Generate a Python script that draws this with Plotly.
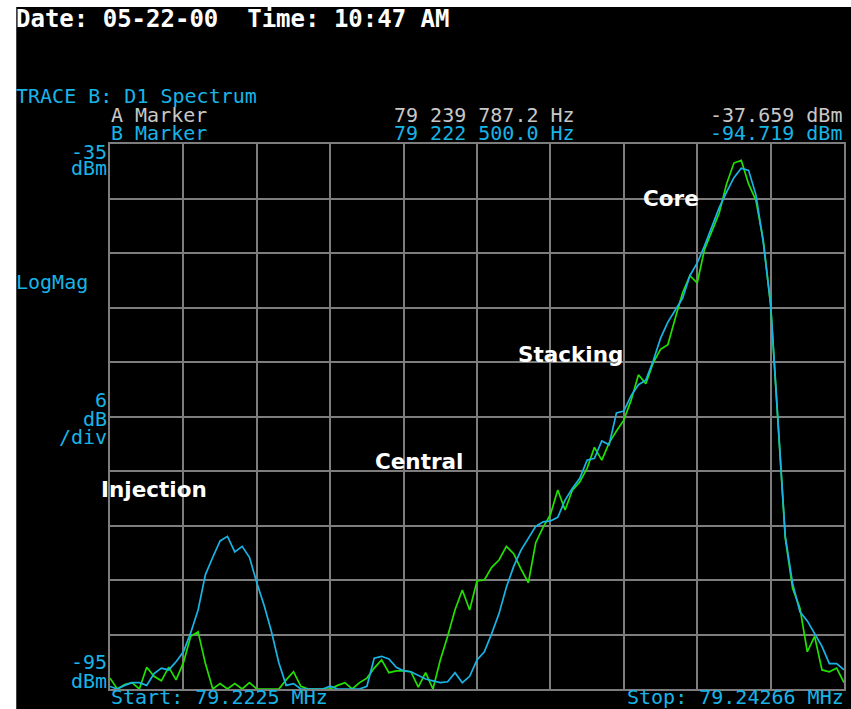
import numpy as np
import plotly.graph_objects as go

# ---- instrument settings -------------------------------------------------
start_mhz = 79.2225
stop_mhz = 79.24266
ref_level = -35.0
bottom_level = -95.0
db_per_div = 6

# ---- measured traces (dBm), evenly spaced from start to stop ---------------
trace_b_dbm = [
    -94.72, -95.0, -94.6, -94.3, -94.3, -94.6, -93.3, -92.7, -92.9, -92.0,
    -90.9, -88.8, -86.3, -82.4, -80.5, -78.7, -78.2, -79.9, -79.3, -80.5,
    -83.3, -85.8, -88.7, -92.1, -94.6, -94.4, -95.0, -95.0, -95.0, -95.0,
    -94.7, -95.0, -95.0, -95.0, -95.0, -94.7, -91.6, -91.4, -91.7, -92.6,
    -93.0, -93.1, -93.5, -93.9, -94.1, -94.3, -94.2, -93.2, -94.3, -93.6,
    -91.8, -90.9, -88.9, -86.7, -83.8, -81.5, -79.7, -78.4, -77.1, -76.6,
    -76.5, -76.1, -74.2, -72.9, -71.8, -69.8, -69.6, -67.7, -68.1, -64.6,
    -64.4, -62.7, -61.5, -61.0, -58.9, -56.4, -54.6, -53.3, -52.0, -49.5,
    -48.1, -46.2, -44.2, -42.0, -40.3, -38.7, -37.66, -37.9, -40.6, -45.8,
    -52.6, -65.2, -78.2, -83.4, -86.5, -87.5, -88.9, -90.3, -92.2, -92.2,
    -92.9,
]

trace_a_dbm = [
    -93.8, -95.0, -94.5, -94.3, -95.0, -92.6, -93.6, -94.1, -92.6, -94.0,
    -92.1, -89.2, -88.7, -92.2, -95.0, -94.4, -95.0, -94.4, -95.0, -94.3,
    -95.0, -95.0, -95.0, -95.0, -94.0, -93.1, -94.7, -95.0, -95.0, -95.0,
    -95.0, -94.6, -94.3, -95.0, -94.3, -93.8, -92.7, -91.8, -93.2, -93.0,
    -93.0, -93.1, -94.8, -93.2, -95.0, -91.8, -89.2, -86.3, -84.1, -86.3,
    -83.1, -83.0, -81.6, -80.8, -79.3, -80.1, -81.8, -83.3, -78.9, -77.2,
    -75.8, -73.1, -75.3, -73.1, -72.2, -70.7, -68.4, -69.8, -67.9, -66.6,
    -65.4, -63.2, -60.4, -61.4, -59.1, -57.6, -57.1, -54.2, -51.4, -49.5,
    -50.3, -46.6, -44.5, -42.6, -39.4, -37.1, -36.8, -39.4, -41.2, -45.6,
    -52.7, -65.2, -78.4, -83.9, -86.1, -90.9, -89.2, -92.9, -93.1, -92.7,
    -94.3,
]

freq_mhz = np.linspace(start_mhz, stop_mhz, len(trace_b_dbm))

# ---- marker readouts ------------------------------------------------------
marker_names = ["A Marker", "B Marker"]
marker_hz = [79239787.2, 79222500.0]
marker_dbm = [-37.659, -94.719]

# ---- region labels --------------------------------------------------------
region_names = ["Core", "Stacking", "Central", "Injection"]

# ---- page geometry --------------------------------------------------------
W, H = 851, 709
ML, MR, MT, MB = 110, 5, 144, 20

CYAN = "#19b4e6"
GREEN = "#22e000"
GRID = "#7d7d7d"
GREY_TXT = "#c8c8c8"
MONO = "DejaVu Sans Mono"
SMALL = 20


def fx(x):
    return (x - ML) / (W - ML - MR)


def fy(y):
    return (H - MB - y) / (H - MT - MB)


fig = go.Figure()

fig.add_trace(go.Scatter(
    x=freq_mhz, y=trace_a_dbm, mode="lines",
    line=dict(color=GREEN, width=1.7), hoverinfo="skip", showlegend=False,
))
fig.add_trace(go.Scatter(
    x=freq_mhz, y=trace_b_dbm, mode="lines",
    line=dict(color=CYAN, width=1.7), hoverinfo="skip", showlegend=False,
))

annotations = []


def label(text, x, y, color, size, anchor="left", family=MONO, bold=False):
    if bold:
        text = "<b>" + text + "</b>"
    annotations.append(dict(
        text=text, x=fx(x), y=fy(y), xref="paper", yref="paper",
        xanchor=anchor, yanchor="middle", showarrow=False, borderpad=0,
        font=dict(family=family, size=size, color=color),
    ))


# header lines
label("Date: 05-22-00  Time: 10:47 AM", 15, 19, "white", 24, bold=True)
label("TRACE B: D1 Spectrum", 15, 96, CYAN, SMALL)

row_y = [115, 133]
row_colors = [GREY_TXT, CYAN]
for name, hz, dbm, yy, col in zip(marker_names, marker_hz, marker_dbm, row_y, row_colors):
    label(name, 110, yy, col, SMALL)
    label(f"{hz:,.1f}".replace(",", " ") + " Hz", 394, yy, col, SMALL)
    label(f"{dbm:.3f} dBm", 845, yy, col, SMALL, anchor="right")

# left scale annotations
label(f"{ref_level:.0f}", 108, 152, CYAN, SMALL, anchor="right")
label("dBm", 108, 168, CYAN, SMALL, anchor="right")
label("LogMag", 15, 282, CYAN, SMALL)
label(f"{db_per_div}", 108, 400, CYAN, SMALL, anchor="right")
label("dB", 108, 419, CYAN, SMALL, anchor="right")
label("/div", 108, 437, CYAN, SMALL, anchor="right")
label(f"{bottom_level:.0f}", 108, 662, CYAN, SMALL, anchor="right")
label("dBm", 108, 681, CYAN, SMALL, anchor="right")

# frequency span
label(f"Start: {start_mhz:.4f} MHz", 110, 697, CYAN, SMALL)
label(f"Stop: {stop_mhz:.5f} MHz", 847, 697, CYAN, SMALL, anchor="right")

# region names
region_pos = [(673, 199), (572, 354), (420, 461), (154, 490)]
for name, (xx, yy) in zip(region_names, region_pos):
    label(name, xx, yy, "white", 21.5, anchor="center", family="DejaVu Sans", bold=True)

# white frame strips along the left and top of the screen capture
shapes = [
    dict(type="rect", xref="paper", yref="paper", x0=fx(-5), x1=fx(16),
         y0=fy(H + 5), y1=fy(-5), fillcolor="white", line=dict(width=0)),
    dict(type="rect", xref="paper", yref="paper", x0=fx(-5), x1=fx(W + 5),
         y0=fy(7), y1=fy(-5), fillcolor="white", line=dict(width=0)),
]

span = stop_mhz - start_mhz
fig.update_layout(
    width=W, height=H,
    margin=dict(l=ML, r=MR, t=MT, b=MB, pad=0),
    paper_bgcolor="black", plot_bgcolor="black",
    annotations=annotations, shapes=shapes,
    xaxis=dict(
        range=[start_mhz, stop_mhz], tick0=start_mhz, dtick=span / 10,
        showgrid=True, gridcolor=GRID, gridwidth=2, zeroline=False,
        showline=True, linecolor=GRID, linewidth=2, mirror=True,
        showticklabels=False, ticks="", fixedrange=True,
    ),
    yaxis=dict(
        range=[bottom_level, ref_level], tick0=bottom_level, dtick=db_per_div,
        showgrid=True, gridcolor=GRID, gridwidth=2, zeroline=False,
        showline=True, linecolor=GRID, linewidth=2, mirror=True,
        showticklabels=False, ticks="", fixedrange=True,
    ),
    showlegend=False,
)

fig.write_html("out.html")
